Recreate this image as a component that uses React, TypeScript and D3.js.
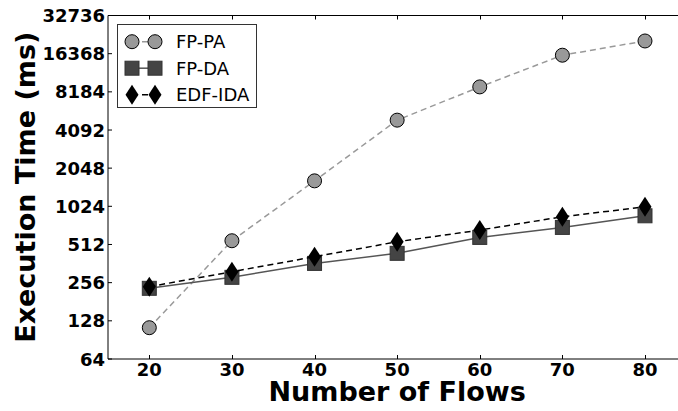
import * as d3 from 'd3';

const flows = [20, 30, 40, 50, 60, 70, 80];
const fpPA = [113, 548, 1626, 4895, 8953, 15917, 20610];
const fpDA = [231, 282, 363, 436, 582, 698, 862];
const edfIDA = [238, 312, 410, 538, 665, 847, 1015];

const yTicks = [64, 128, 256, 512, 1024, 2048, 4092, 8184, 16368, 32736];
const xTicks = [20, 30, 40, 50, 60, 70, 80];

const W = 678, H = 411;
const margin = { top: 15.5, left: 108, bottom: 52, right: -8.3 };

const x = d3.scaleLinear().domain([15, 85]).range([margin.left, W - margin.right]);
const y = d3.scaleLog().base(2).domain([64, 32736]).range([H - margin.bottom, margin.top]);

const font = "'DejaVu Sans', sans-serif";

type Marker = 'circle' | 'square' | 'diamond';

function markerEl(kind: Marker, cx: number, cy: number, key: string) {
    if (kind === 'circle') {
        return <circle key={key} cx={cx} cy={cy} r={7} fill="#999999" stroke="#000" strokeWidth={1} />;
    }
    if (kind === 'square') {
        return <rect key={key} x={cx - 7} y={cy - 7} width={14} height={14} fill="#444444" stroke="#333" strokeWidth={1} />;
    }
    return <path key={key} d={`M${cx},${cy - 10}L${cx + 6.5},${cy}L${cx},${cy + 10}L${cx - 6.5},${cy}Z`} fill="#000" />;
}

const series = [
    { name: 'FP-PA', values: fpPA, color: '#999999', dash: '6,4', marker: 'circle' as Marker },
    { name: 'FP-DA', values: fpDA, color: '#555555', dash: '', marker: 'square' as Marker },
    { name: 'EDF-IDA', values: edfIDA, color: '#000000', dash: '6,4', marker: 'diamond' as Marker },
];

const App = () => {
    const line = d3.line<number>()
        .x((_, i) => x(flows[i]))
        .y((d) => y(d));

    const x0 = margin.left, x1 = W - margin.right;
    const y0 = H - margin.bottom, y1 = margin.top;

    return (
        <svg width={W} height={H} style={{ position: 'absolute', left: 0, top: 0 }} fontFamily={font}>
            <rect width={W} height={H} fill="#fff" />
            {series.map((s) => (
                <g key={s.name}>
                    <path d={line(s.values) || ''} fill="none" stroke={s.color} strokeWidth={1.5}
                        strokeDasharray={s.dash || undefined} />
                    {s.values.map((v, i) => markerEl(s.marker, x(flows[i]), y(v), s.name + i))}
                </g>
            ))}
            {/* spines */}
            <line x1={x0} x2={x0} y1={y0} y2={y1} stroke="#000" strokeWidth={1} />
            <line x1={x0} x2={x1} y1={y1} y2={y1} stroke="#000" strokeWidth={1} />
            <line x1={x0} x2={x1} y1={y0} y2={y0} stroke="#000" strokeWidth={1} />
            {/* x ticks */}
            {xTicks.map((t) => (
                <g key={'x' + t}>
                    <line x1={Math.round(x(t)) + 0.5} x2={Math.round(x(t)) + 0.5} y1={y0} y2={y0 - 4} stroke="#000" />
                    <line x1={Math.round(x(t)) + 0.5} x2={Math.round(x(t)) + 0.5} y1={y1} y2={y1 + 4} stroke="#000" />
                    <text x={x(t)} y={y0 + 17} textAnchor="middle" fontSize={18} fontWeight="bold">{t}</text>
                </g>
            ))}
            {/* y ticks */}
            {yTicks.map((t) => (
                <g key={'y' + t}>
                    <line x1={x0} x2={x0 + 4} y1={y(t)} y2={y(t)} stroke="#000" />
                    <text x={x0 - 3} y={y(t) + 6.5} textAnchor="end" fontSize={18} fontWeight="bold">{t}</text>
                </g>
            ))}
            {/* axis titles */}
            <text x={(x0 + x1) / 2} y={401} textAnchor="middle" fontSize={27} fontWeight="bold">Number of Flows</text>
            <text transform={`translate(35,${(y0 + y1) / 2}) rotate(-90)`} textAnchor="middle" fontSize={27} fontWeight="bold">Execution Time (ms)</text>
            {/* legend */}
            <rect x={117.5} y={24.5} width={139} height={83} fill="#fff" stroke="#333" strokeWidth={1} />
            {series.map((s, i) => {
                const ly = 41.7 + i * 26.5;
                return (
                    <g key={'leg' + s.name}>
                        <line x1={132} x2={155} y1={ly} y2={ly} stroke={s.color} strokeWidth={1.5}
                            strokeDasharray={s.dash || undefined} />
                        {markerEl(s.marker, 132, ly, 'la' + i)}
                        {markerEl(s.marker, 155, ly, 'lb' + i)}
                        <text x={176} y={ly + 6.5} fontSize={18}>{s.name}</text>
                    </g>
                );
            })}
        </svg>
    );
};

export default App;
